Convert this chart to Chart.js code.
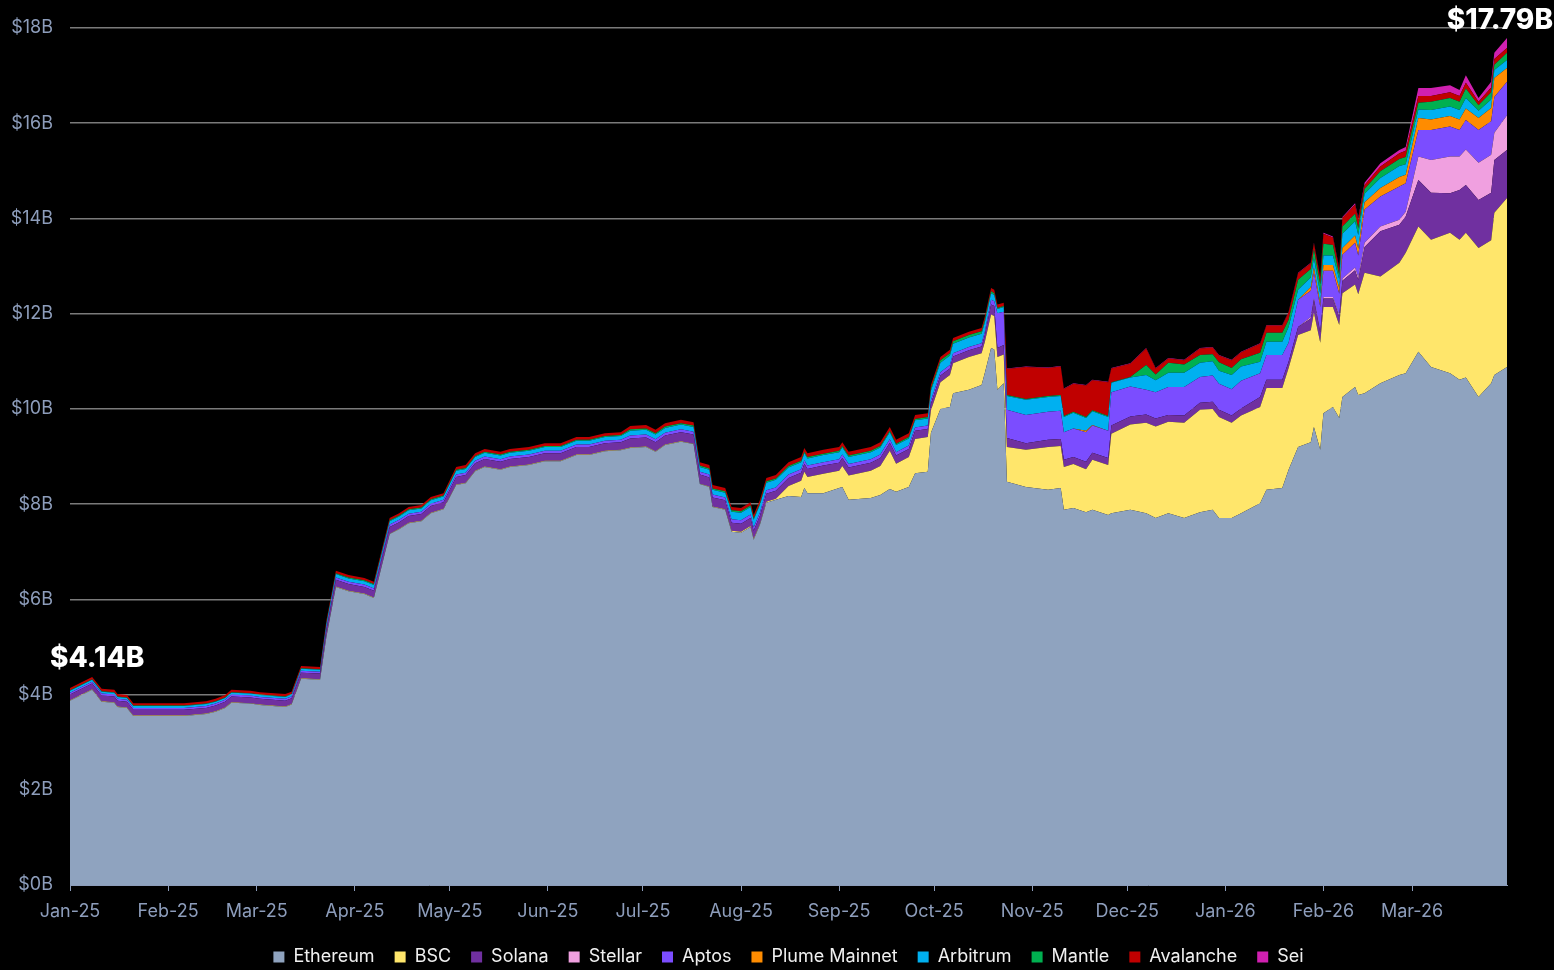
<!DOCTYPE html>
<html>
<head>
<meta charset="utf-8">
<title>Stacked value by chain</title>
<script src="https://cdn.jsdelivr.net/npm/chart.js@4.4.1/dist/chart.umd.min.js"></script>
<style>
  html, body { margin: 0; padding: 0; background: #000; }
  #wrap { position: relative; width: 1554px; height: 970px; }
</style>
</head>
<body>
<div id="wrap"><canvas id="chart"></canvas></div>
<script>
// Sample dates, as days since 2025-01-01
const days = [
  0, 7, 10, 14, 15, 18, 20, 36, 43, 46, 49, 51, 57, 60, 68, 70, 73, 79,
  81, 84, 88, 93, 96, 101, 104, 107, 111, 114, 118,
  122, 125, 128, 131, 136, 139, 145, 150, 155, 160, 164, 169, 174,
  177, 182, 185, 188, 193, 197, 199, 202, 203, 207,
  209, 212, 215, 216, 218, 220, 223,
  227, 231, 232, 233, 238, 243, 244, 246, 253, 256, 259, 261, 265, 267, 271,
  272, 275, 278, 279, 284, 288, 289, 291, 292, 293, 295,
  296, 302, 309, 313, 314, 317, 321, 323, 328, 329,
  335, 340, 343, 347, 352, 357, 361, 363, 367, 370,
  376, 378, 383, 385, 388, 392, 393, 395, 396, 399,
  401, 402, 406, 407, 409, 414, 420, 422, 426, 430,
  436, 439, 441, 445, 449, 450, 454
];

// x-axis ticks (first day of each month)
const monthStarts = [0, 31, 59, 90, 120, 151, 181, 212, 243, 273, 304, 334, 365, 396, 424];
const monthLabels = ['Jan-25', 'Feb-25', 'Mar-25', 'Apr-25', 'May-25', 'Jun-25', 'Jul-25', 'Aug-25',
  'Sep-25', 'Oct-25', 'Nov-25', 'Dec-25', 'Jan-26', 'Feb-26', 'Mar-26'];

// Values in $B
const ethereum = [
  3.87, 4.10, 3.85, 3.83, 3.74, 3.72, 3.55, 3.55, 3.59, 3.64, 3.72, 3.83, 3.81, 3.78, 3.74, 3.79, 4.33, 4.31,
  5.21, 6.26, 6.17, 6.11, 6.03, 7.37, 7.47, 7.60, 7.64, 7.81, 7.89,
  8.40, 8.44, 8.69, 8.78, 8.72, 8.78, 8.82, 8.90, 8.90, 9.03, 9.03, 9.11, 9.13,
  9.18, 9.20, 9.10, 9.24, 9.31, 9.26, 8.42, 8.36, 7.94, 7.88,
  7.42, 7.40, 7.52, 7.25, 7.57, 8.03, 8.09,
  8.17, 8.15, 8.34, 8.23, 8.23, 8.34, 8.36, 8.09, 8.13, 8.19, 8.32, 8.26, 8.36, 8.65, 8.68,
  9.50, 10.00, 10.04, 10.33, 10.40, 10.50, 10.75, 11.28, 11.25, 10.40, 10.54,
  8.47, 8.36, 8.30, 8.34, 7.88, 7.92, 7.83, 7.88, 7.77, 7.81,
  7.88, 7.81, 7.71, 7.81, 7.71, 7.83, 7.88, 7.71, 7.71, 7.81,
  8.02, 8.30, 8.34, 8.72, 9.20, 9.30, 9.62, 9.14, 9.91, 10.04,
  9.81, 10.25, 10.46, 10.29, 10.33, 10.54, 10.71, 10.75, 11.20, 10.88,
  10.75, 10.61, 10.66, 10.25, 10.54, 10.71, 10.88
];
const bsc = [
  0.01, 0.01, 0.01, 0.01, 0.01, 0.01, 0.01, 0.01, 0.01, 0.01, 0.01, 0.01, 0.01, 0.01, 0.01, 0.01, 0.01, 0.01,
  0.01, 0.01, 0.01, 0.01, 0.01, 0.01, 0.01, 0.01, 0.01, 0.01, 0.01,
  0.01, 0.01, 0.01, 0.01, 0.01, 0.01, 0.01, 0.01, 0.01, 0.01, 0.01, 0.01, 0.01,
  0.01, 0.01, 0.01, 0.01, 0.01, 0.01, 0.01, 0.01, 0.01, 0.01,
  0.02, 0.02, 0.02, 0.02, 0.02, 0.02, 0.02,
  0.21, 0.34, 0.34, 0.34, 0.41, 0.36, 0.44, 0.51, 0.57, 0.61, 0.80, 0.59, 0.63, 0.72, 0.73,
  0.47, 0.56, 0.67, 0.63, 0.69, 0.67, 0.65, 0.70, 0.70, 0.69, 0.60,
  0.73, 0.78, 0.90, 0.88, 0.90, 0.92, 0.90, 1.05, 1.05, 1.67,
  1.79, 1.90, 1.92, 1.92, 2.00, 2.15, 2.12, 2.12, 2.00, 2.05,
  2.02, 2.14, 2.10, 2.14, 2.35, 2.35, 2.40, 2.25, 2.23, 2.10,
  1.95, 2.18, 2.15, 2.12, 2.53, 2.24, 2.36, 2.53, 2.63, 2.67,
  2.95, 2.94, 3.04, 3.13, 3.00, 3.41, 3.55
];
const solana = [
  0.12, 0.12, 0.12, 0.12, 0.12, 0.12, 0.12, 0.12, 0.12, 0.12, 0.12, 0.12, 0.12, 0.12, 0.12, 0.12, 0.12, 0.12,
  0.14, 0.14, 0.14, 0.14, 0.14, 0.14, 0.14, 0.14, 0.14, 0.14, 0.14,
  0.16, 0.16, 0.16, 0.16, 0.16, 0.16, 0.16, 0.16, 0.16, 0.16, 0.16, 0.16, 0.16,
  0.19, 0.19, 0.19, 0.19, 0.19, 0.19, 0.19, 0.19, 0.19, 0.19,
  0.17, 0.17, 0.17, 0.17, 0.17, 0.17, 0.17,
  0.17, 0.17, 0.17, 0.17, 0.17, 0.17, 0.17, 0.17, 0.17, 0.17, 0.17, 0.17, 0.17, 0.17, 0.17,
  0.14, 0.14, 0.14, 0.14, 0.14, 0.14, 0.14, 0.21, 0.21, 0.19, 0.20,
  0.19, 0.14, 0.15, 0.15, 0.15, 0.15, 0.16, 0.15, 0.15, 0.17,
  0.17, 0.17, 0.17, 0.14, 0.15, 0.15, 0.15, 0.15, 0.15, 0.15,
  0.21, 0.17, 0.17, 0.13, 0.17, 0.25, 0.27, 0.22, 0.18, 0.18,
  0.18, 0.26, 0.30, 0.30, 0.54, 0.95, 0.80, 0.76, 0.98, 0.99,
  0.83, 1.05, 1.00, 1.01, 1.00, 1.11, 1.01
];
const stellar = [
  0, 0, 0, 0, 0, 0, 0, 0, 0, 0, 0, 0, 0, 0, 0, 0, 0, 0,
  0, 0, 0, 0, 0, 0, 0, 0, 0, 0, 0,
  0, 0, 0, 0, 0, 0, 0, 0, 0, 0, 0, 0, 0,
  0, 0, 0, 0, 0, 0, 0, 0, 0, 0,
  0, 0, 0, 0, 0, 0, 0,
  0, 0, 0, 0, 0, 0, 0, 0, 0, 0, 0, 0, 0, 0, 0,
  0, 0, 0, 0, 0, 0, 0, 0, 0, 0, 0,
  0, 0, 0, 0, 0, 0, 0, 0, 0, 0,
  0, 0, 0, 0, 0, 0, 0, 0, 0, 0,
  0, 0, 0, 0, 0, 0.03, 0.03, 0.03, 0.03, 0.03,
  0.03, 0.05, 0.06, 0.06, 0.09, 0.10, 0.10, 0.10, 0.49, 0.69,
  0.77, 0.70, 0.75, 0.78, 0.80, 0.57, 0.73
];
const aptos = [
  0.04, 0.04, 0.04, 0.04, 0.04, 0.04, 0.04, 0.04, 0.04, 0.04, 0.04, 0.04, 0.04, 0.04, 0.04, 0.04, 0.04, 0.04,
  0.05, 0.05, 0.05, 0.05, 0.05, 0.05, 0.05, 0.05, 0.05, 0.05, 0.05,
  0.05, 0.05, 0.05, 0.05, 0.05, 0.05, 0.05, 0.05, 0.05, 0.05, 0.05, 0.05, 0.05,
  0.06, 0.06, 0.06, 0.06, 0.06, 0.06, 0.06, 0.06, 0.06, 0.06,
  0.07, 0.07, 0.07, 0.07, 0.07, 0.07, 0.07,
  0.07, 0.07, 0.07, 0.07, 0.07, 0.07, 0.07, 0.07, 0.07, 0.07, 0.07, 0.07, 0.07, 0.07, 0.07,
  0.07, 0.07, 0.07, 0.07, 0.07, 0.07, 0.07, 0.10, 0.10, 0.73, 0.70,
  0.59, 0.59, 0.59, 0.59, 0.58, 0.60, 0.62, 0.57, 0.57, 0.70,
  0.63, 0.52, 0.55, 0.59, 0.60, 0.54, 0.55, 0.55, 0.55, 0.58,
  0.50, 0.52, 0.52, 0.40, 0.57, 0.55, 0.55, 0.50, 0.55, 0.55,
  0.45, 0.50, 0.52, 0.45, 0.70, 0.63, 0.70, 0.60, 0.56, 0.63,
  0.63, 0.56, 0.62, 0.69, 0.70, 0.75, 0.70
];
const plumeMainnet = [
  0, 0, 0, 0, 0, 0, 0, 0, 0, 0, 0, 0, 0, 0, 0, 0, 0, 0,
  0, 0, 0, 0, 0, 0, 0, 0, 0, 0, 0,
  0, 0, 0, 0, 0, 0, 0, 0, 0, 0, 0, 0, 0,
  0, 0, 0, 0, 0, 0, 0, 0, 0, 0,
  0, 0, 0, 0, 0, 0, 0,
  0, 0, 0, 0, 0, 0, 0, 0, 0, 0, 0, 0, 0, 0, 0,
  0, 0, 0, 0, 0, 0, 0, 0, 0, 0, 0,
  0, 0, 0, 0, 0, 0, 0.03, 0.01, 0, 0,
  0, 0, 0, 0, 0, 0, 0, 0, 0, 0,
  0, 0, 0, 0, 0, 0.08, 0.10, 0.08, 0.12, 0.12,
  0.12, 0.14, 0.15, 0.15, 0.15, 0.18, 0.20, 0.18, 0.25, 0.22,
  0.22, 0.22, 0.24, 0.25, 0.28, 0.40, 0.29
];
const arbitrum = [
  0.04, 0.04, 0.04, 0.04, 0.04, 0.04, 0.04, 0.04, 0.04, 0.04, 0.04, 0.04, 0.04, 0.04, 0.04, 0.04, 0.04, 0.04,
  0.07, 0.07, 0.07, 0.07, 0.07, 0.07, 0.07, 0.07, 0.07, 0.07, 0.07,
  0.08, 0.08, 0.08, 0.08, 0.08, 0.08, 0.08, 0.08, 0.08, 0.08, 0.08, 0.08, 0.08,
  0.10, 0.10, 0.10, 0.10, 0.10, 0.10, 0.10, 0.10, 0.10, 0.10,
  0.16, 0.16, 0.16, 0.16, 0.16, 0.16, 0.16,
  0.15, 0.15, 0.15, 0.15, 0.15, 0.15, 0.15, 0.15, 0.15, 0.15, 0.15, 0.15, 0.15, 0.15, 0.15,
  0.20, 0.20, 0.20, 0.20, 0.20, 0.20, 0.20, 0.14, 0.13, 0.09, 0.10,
  0.29, 0.32, 0.31, 0.31, 0.32, 0.33, 0.27, 0.29, 0.29, 0.20,
  0.19, 0.31, 0.25, 0.30, 0.30, 0.30, 0.30, 0.27, 0.30, 0.30,
  0.24, 0.28, 0.28, 0.33, 0.21, 0.20, 0.20, 0.20, 0.20, 0.20,
  0.18, 0.30, 0.30, 0.28, 0.18, 0.21, 0.23, 0.22, 0.18, 0.20,
  0.20, 0.20, 0.22, 0.15, 0.18, 0.17, 0.17
];
const mantle = [
  0.01, 0.01, 0.01, 0.01, 0.01, 0.01, 0.01, 0.01, 0.01, 0.01, 0.01, 0.01, 0.01, 0.01, 0.01, 0.01, 0.01, 0.01,
  0.02, 0.02, 0.02, 0.02, 0.02, 0.02, 0.02, 0.02, 0.02, 0.02, 0.02,
  0.02, 0.02, 0.02, 0.02, 0.02, 0.02, 0.02, 0.02, 0.02, 0.02, 0.02, 0.02, 0.02,
  0.03, 0.03, 0.03, 0.03, 0.03, 0.03, 0.03, 0.03, 0.03, 0.03,
  0.03, 0.03, 0.03, 0.03, 0.03, 0.03, 0.03,
  0.03, 0.03, 0.03, 0.03, 0.03, 0.03, 0.03, 0.03, 0.03, 0.03, 0.03, 0.03, 0.03, 0.03, 0.03,
  0.05, 0.05, 0.05, 0.05, 0.05, 0.05, 0.05, 0.04, 0.04, 0.02, 0.02,
  0.02, 0.02, 0.02, 0.02, 0.02, 0.02, 0.02, 0.02, 0.02, 0.01,
  0.01, 0.21, 0.12, 0.21, 0.17, 0.16, 0.15, 0.18, 0.15, 0.15,
  0.19, 0.19, 0.19, 0.15, 0.21, 0.18, 0.18, 0.20, 0.25, 0.22,
  0.10, 0.15, 0.16, 0.15, 0.10, 0.14, 0.15, 0.15, 0.14, 0.17,
  0.18, 0.17, 0.20, 0.12, 0.15, 0.11, 0.15
];
const avalanche = [
  0.05, 0.05, 0.05, 0.05, 0.05, 0.05, 0.05, 0.05, 0.05, 0.05, 0.05, 0.05, 0.05, 0.05, 0.05, 0.05, 0.05, 0.05,
  0.05, 0.05, 0.05, 0.05, 0.05, 0.05, 0.05, 0.05, 0.05, 0.05, 0.05,
  0.06, 0.06, 0.06, 0.06, 0.06, 0.06, 0.06, 0.06, 0.06, 0.06, 0.06, 0.06, 0.06,
  0.07, 0.07, 0.07, 0.07, 0.07, 0.07, 0.07, 0.07, 0.07, 0.07,
  0.07, 0.07, 0.07, 0.07, 0.07, 0.07, 0.07,
  0.08, 0.08, 0.08, 0.08, 0.08, 0.08, 0.08, 0.08, 0.08, 0.08, 0.08, 0.08, 0.08, 0.08, 0.08,
  0.07, 0.07, 0.07, 0.07, 0.07, 0.07, 0.07, 0.07, 0.07, 0.07, 0.07,
  0.55, 0.67, 0.59, 0.60, 0.57, 0.59, 0.66, 0.63, 0.71, 0.29,
  0.28, 0.35, 0.13, 0.09, 0.09, 0.14, 0.14, 0.14, 0.16, 0.15,
  0.19, 0.15, 0.15, 0.16, 0.14, 0.12, 0.13, 0.14, 0.21, 0.16,
  0.12, 0.18, 0.19, 0.18, 0.08, 0.10, 0.12, 0.13, 0.14, 0.12,
  0.12, 0.12, 0.12, 0.07, 0.10, 0.12, 0.10
];
const sei = [
  0, 0, 0, 0, 0, 0, 0, 0, 0, 0, 0, 0, 0, 0, 0, 0, 0, 0,
  0, 0, 0, 0, 0, 0, 0, 0, 0, 0, 0,
  0, 0, 0, 0, 0, 0, 0, 0, 0, 0, 0, 0, 0,
  0, 0, 0, 0, 0, 0, 0, 0, 0, 0,
  0, 0, 0, 0, 0, 0, 0,
  0, 0, 0, 0, 0, 0, 0, 0, 0, 0, 0, 0, 0, 0, 0,
  0, 0, 0, 0, 0, 0, 0, 0, 0, 0, 0,
  0.01, 0.01, 0.01, 0.01, 0.01, 0.01, 0.01, 0.01, 0.01, 0.01,
  0.01, 0.01, 0.01, 0.01, 0.01, 0.01, 0.01, 0.01, 0.01, 0.01,
  0.01, 0.01, 0.01, 0.01, 0.01, 0.01, 0.01, 0.01, 0.02, 0.02,
  0.02, 0.02, 0.03, 0.03, 0.05, 0.07, 0.07, 0.08, 0.17, 0.17,
  0.15, 0.13, 0.16, 0.08, 0.12, 0.13, 0.21
];

const seriesNames = ['Ethereum', 'BSC', 'Solana', 'Stellar', 'Aptos', 'Plume Mainnet', 'Arbitrum', 'Mantle', 'Avalanche', 'Sei'];
const seriesValues = [ethereum, bsc, solana, stellar, aptos, plumeMainnet, arbitrum, mantle, avalanche, sei];
const seriesColors = ['#8fa3bf', '#ffe66b', '#7030a0', '#f0a0e0', '#7b4dff', '#ff8c00', '#00b0f0', '#00b050', '#c00000', '#d020b0'];

const axisGrey = '#8d9dbb';

// stack totals, used for the start / end labels
const totals = days.map((d, i) => seriesValues.reduce((s, arr) => s + arr[i], 0));

const endLabels = {
    id: 'endLabels',
    afterDatasetsDraw(chart) {
        const { ctx, scales: { x, y } } = chart;
        const first = totals[0];
        const last = totals[totals.length - 1];
        ctx.save();
        ctx.fillStyle = '#ffffff';
        ctx.font = "800 28px Inter, sans-serif";
        ctx.textBaseline = 'alphabetic';
        ctx.textAlign = 'left';
        ctx.fillText('$' + first.toFixed(2) + 'B', x.getPixelForValue(days[0]) - 20, y.getPixelForValue(first) - 21);
        ctx.textAlign = 'right';
        ctx.fillText('$' + last.toFixed(2) + 'B', chart.width - 1, y.getPixelForValue(last) - 9);
        ctx.restore();
    }
};

Chart.defaults.font.family = "Inter, sans-serif";

const ctx = document.getElementById('chart').getContext('2d');

new Chart(ctx, {
    type: 'line',
    data: {
        datasets: seriesNames.map((name, k) => ({
            label: name,
            data: days.map((d, i) => ({ x: d, y: seriesValues[k][i] })),
            backgroundColor: seriesColors[k],
            borderColor: 'rgba(0,0,0,0)',
            borderWidth: 0,
            pointRadius: 0,
            tension: 0,
            fill: k === 0 ? 'origin' : '-1'
        }))
    },
    options: {
        responsive: true,
        maintainAspectRatio: false,
        animation: false,
        layout: {
            padding: { top: 28, right: 47, left: 0, bottom: -6 }
        },
        plugins: {
            legend: {
                position: 'bottom',
                fullSize: false,
                labels: {
                    color: '#f0f0f0',
                    boxWidth: 11,
                    boxHeight: 11,
                    padding: 20,
                    font: { size: 18 }
                }
            },
            tooltip: { enabled: false }
        },
        scales: {
            x: {
                type: 'linear',
                min: 0,
                max: 454,
                afterBuildTicks: (scale) => {
                    scale.ticks = monthStarts.map(v => ({ value: v }));
                },
                afterFit: (scale) => { scale.height = 43; },
                grid: {
                    display: true,
                    drawOnChartArea: false,
                    drawTicks: true,
                    tickLength: 6,
                    color: axisGrey
                },
                border: { display: true, color: axisGrey },
                ticks: {
                    color: axisGrey,
                    font: { size: 18 },
                    padding: 10,
                    autoSkip: false,
                    maxRotation: 0,
                    callback: (value) => monthLabels[monthStarts.indexOf(value)]
                }
            },
            y: {
                stacked: true,
                min: 0,
                max: 18,
                afterFit: (scale) => { scale.width = 70; },
                grid: {
                    color: '#7a7a7a',
                    lineWidth: 1.5,
                    drawTicks: false
                },
                border: { display: false },
                ticks: {
                    stepSize: 2,
                    color: axisGrey,
                    font: { size: 18 },
                    padding: 17,
                    callback: (value) => '$' + value + 'B'
                }
            }
        }
    },
    plugins: [endLabels]
});
</script>
</body>
</html>
